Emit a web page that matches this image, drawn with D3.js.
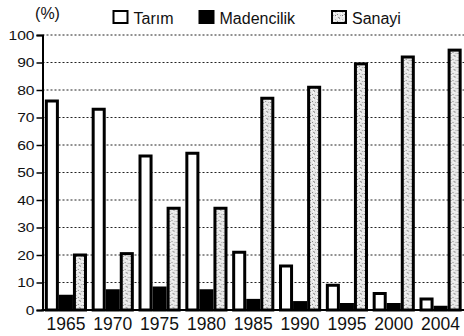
<!DOCTYPE html>
<html>
<head>
<meta charset="utf-8">
<script src="https://cdn.jsdelivr.net/npm/d3@7"></script>
<style>
  html, body { margin: 0; padding: 0; background: #fff; }
  svg { display: block; font-family: "Liberation Sans", Arial, Helvetica, sans-serif; }
</style>
</head>
<body>
<svg id="chart" width="464" height="336"></svg>
<script>
// Sector shares of exports (%), by year
const years = ["1965", "1970", "1975", "1980", "1985", "1990", "1995", "2000", "2004"];
const tarim = [76, 73, 56, 57, 21, 16, 9, 6, 4];
const madencilik = [5, 7, 8, 7, 3.5, 2.7, 2, 2, 1];
const sanayi = [20, 20.5, 37, 37, 77, 81, 89.5, 92, 94.5];
const seriesNames = ["Tarım", "Madencilik", "Sanayi"];
const yTicks = [0, 10, 20, 30, 40, 50, 60, 70, 80, 90, 100];

const rows = years.map((y, i) => ({ year: y, values: [tarim[i], madencilik[i], sanayi[i]] }));

const svg = d3.select("#chart");
const plotLeft = 42.5, plotRight = 464, plotTop = 35, plotBottom = 310;

// stippled fill for the industry series
const defs = svg.append("defs");
const pat = defs.append("pattern")
  .attr("id", "stipple").attr("patternUnits", "userSpaceOnUse")
  .attr("width", 7).attr("height", 7);
pat.append("rect").attr("width", 7).attr("height", 7).attr("fill", "#e8e8e8");
const specks = [[0,0,"#999"],[3,1,"#bbb"],[5,3,"#888"],[1,4,"#aaa"],[4,5,"#fff"],[6,6,"#999"],[2,2,"#fff"],[6,1,"#fff"],[0,6,"#bbb"],[3,4,"#777"]];
pat.selectAll("rect.s").data(specks).join("rect").attr("class", "s")
  .attr("x", d => d[0]).attr("y", d => d[1]).attr("width", 1).attr("height", 1).attr("fill", d => d[2]);

const fills = ["#fff", "#000", "url(#stipple)"];

const x = d3.scaleBand().domain(years).range([plotLeft, plotRight]).paddingInner(0.1).paddingOuter(0.05);
const xs = d3.scaleBand().domain(d3.range(3)).range([0, x.bandwidth()]).padding(0);
const y = d3.scaleLinear().domain([0, 100]).range([plotBottom, plotTop]);

// dashed gridlines
svg.append("g").selectAll("line").data(yTicks.filter(t => t > 0)).join("line")
  .attr("x1", plotLeft).attr("x2", plotRight)
  .attr("y1", d => y(d)).attr("y2", d => y(d))
  .attr("stroke", "#222").attr("stroke-width", 1).attr("stroke-dasharray", "2,2");

// bars
const g = svg.append("g").selectAll("g").data(rows).join("g")
  .attr("transform", d => `translate(${x(d.year)},0)`);
g.selectAll("rect").data(d => d.values.map((v, i) => ({ v, i }))).join("rect")
  .attr("x", d => xs(d.i) + 1.5)
  .attr("width", xs.bandwidth() - 3)
  .attr("y", d => y(d.v))
  .attr("height", d => plotBottom - y(d.v))
  .attr("fill", d => fills[d.i])
  .attr("stroke", "#000").attr("stroke-width", 3);

// y axis
const yAxis = svg.append("g").attr("transform", `translate(${plotLeft},0)`)
  .call(d3.axisLeft(y).tickValues(yTicks).tickSize(6).tickPadding(8));
yAxis.select(".domain").attr("stroke", "#000").attr("stroke-width", 2);
yAxis.selectAll(".tick line").attr("stroke", "#000").attr("stroke-width", 1.5);
yAxis.selectAll(".tick text")
  .attr("font-size", 13).attr("fill", "#111")
  .attr("x", -8 / 1.2)
  .attr("transform", "scale(1.2,1)")
  .attr("font-family", "Liberation Sans, Arial, sans-serif");

// x axis
const xAxis = svg.append("g").attr("transform", `translate(0,${plotBottom})`)
  .call(d3.axisBottom(x).tickSize(0).tickPadding(8));
xAxis.select(".domain").remove();
xAxis.selectAll(".tick text").attr("font-size", 17.5).attr("fill", "#111")
  .attr("font-family", "Liberation Sans, Arial, sans-serif");
svg.append("line").attr("x1", plotLeft - 1).attr("x2", plotRight).attr("y1", plotBottom).attr("y2", plotBottom)
  .attr("stroke", "#000").attr("stroke-width", 2);

// unit label
svg.append("text").attr("x", 47.5).attr("y", 19).attr("text-anchor", "middle")
  .attr("font-size", 16).attr("fill", "#111").text("(%)");

// legend
const legendX = [113.5, 199.5, 332];
const leg = svg.append("g").selectAll("g").data(seriesNames).join("g")
  .attr("transform", (d, i) => `translate(${legendX[i]},11)`);
leg.append("rect").attr("width", 14).attr("height", 12)
  .attr("fill", (d, i) => fills[i]).attr("stroke", "#000").attr("stroke-width", 2);
leg.append("text").attr("x", 20).attr("y", 12.5).attr("font-size", 16).attr("fill", "#111").text(d => d);
</script>
</body>
</html>
